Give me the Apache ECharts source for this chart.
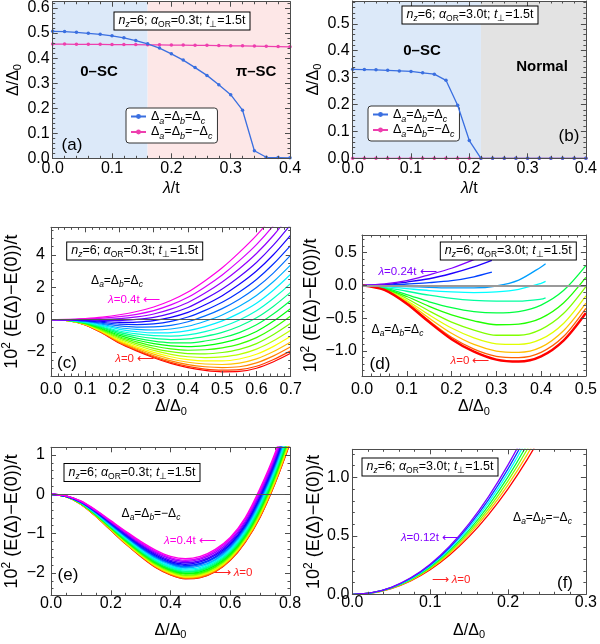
<!DOCTYPE html>
<html><head><meta charset="utf-8">
<script src="https://cdn.jsdelivr.net/npm/echarts@6/dist/echarts.min.js"></script>
<style>html,body{margin:0;padding:0;background:#fff}#c{width:600px;height:644px}</style>
</head><body><div id="c"></div><script>
const FONT = '"Liberation Sans", Arial, Helvetica, sans-serif';
const FRAME = '#4d4d4d';

// ---------- panels (a),(b) ----------
const lam = [0,0.02,0.04,0.06,0.08,0.10,0.12,0.14,0.16,0.18,0.20,0.22,0.24,0.26,0.28,0.30,0.32,0.34,0.36,0.38,0.40];
const aSame = [0.507,0.506,0.503,0.499,0.495,0.489,0.481,0.470,0.457,0.440,0.417,0.392,0.362,0.331,0.294,0.254,0.192,0.030,0.004,0.003,0.002];
const aOpp  = [0.456,0.456,0.455,0.455,0.455,0.454,0.454,0.454,0.453,0.453,0.452,0.452,0.451,0.451,0.450,0.449,0.449,0.448,0.447,0.446,0.445];
const bSame = [0.331,0.330,0.329,0.327,0.325,0.323,0.318,0.313,0.290,0.197,0.066,0.000,0,0,0,0,0,0,0,0,0];
const bOpp  = [0,0,0,0,0,0,0,0,0,0,0,0,0,0,0,0,0,0,0,0,0];
const phaseA = [0, 0.16, 0.40];
const phaseB = [0, 0.22, 0.40];
const ticksAx = [0,0.1,0.2,0.3,0.4];
const ticksAy = [0,0.1,0.2,0.3,0.4,0.5,0.6];
const ticksBy = [0,0.1,0.2,0.3,0.4,0.5];

// ---------- panel (c) ----------
const xC = [0,0.05,0.10,0.15,0.20,0.25,0.30,0.35,0.40,0.45,0.50,0.55,0.60,0.65,0.70];
const cCurves = [
 [0,-0.07,-0.33,-0.84,-1.46,-1.93,-2.35,-2.70,-2.96,-3.13,-3.22,-3.20,-3.00,-2.60,-2.08],
 [0,-0.07,-0.32,-0.83,-1.43,-1.89,-2.30,-2.64,-2.89,-3.05,-3.12,-3.09,-2.88,-2.46,-1.93],
 [0,-0.07,-0.31,-0.80,-1.39,-1.83,-2.23,-2.55,-2.78,-2.91,-2.96,-2.91,-2.67,-2.24,-1.68],
 [0,-0.06,-0.30,-0.77,-1.34,-1.76,-2.13,-2.43,-2.63,-2.74,-2.77,-2.68,-2.42,-1.97,-1.38],
 [0,-0.06,-0.29,-0.74,-1.28,-1.68,-2.02,-2.29,-2.47,-2.55,-2.55,-2.43,-2.14,-1.65,-1.03],
 [0,-0.06,-0.27,-0.70,-1.21,-1.58,-1.90,-2.14,-2.29,-2.34,-2.30,-2.15,-1.82,-1.30,-0.65],
 [0,-0.06,-0.26,-0.66,-1.13,-1.48,-1.77,-1.98,-2.10,-2.11,-2.03,-1.84,-1.48,-0.92,-0.23],
 [0,-0.05,-0.24,-0.61,-1.06,-1.37,-1.63,-1.81,-1.89,-1.86,-1.74,-1.51,-1.11,-0.52,0.22],
 [0,-0.05,-0.22,-0.56,-0.97,-1.26,-1.48,-1.62,-1.67,-1.60,-1.44,-1.16,-0.73,-0.09,0.69],
 [0,-0.04,-0.20,-0.51,-0.88,-1.14,-1.33,-1.43,-1.44,-1.32,-1.12,-0.80,-0.32,0.36,1.18],
 [0,-0.04,-0.18,-0.46,-0.79,-1.01,-1.16,-1.23,-1.19,-1.03,-0.79,-0.41,0.11,0.83,1.70],
 [0,-0.04,-0.16,-0.41,-0.70,-0.88,-0.99,-1.02,-0.94,-0.74,-0.44,-0.02,0.55,1.32,2.24],
 [0,-0.03,-0.13,-0.35,-0.60,-0.74,-0.82,-0.80,-0.68,-0.43,-0.08,0.40,1.01,1.83,2.80],
 [0,-0.03,-0.11,-0.29,-0.50,-0.60,-0.64,-0.58,-0.41,-0.10,0.29,0.82,1.49,2.35,3.38],
 [0,-0.02,-0.09,-0.23,-0.39,-0.46,-0.45,-0.35,-0.13,0.23,0.68,1.26,1.98,2.89,3.98],
 [0,-0.02,-0.06,-0.17,-0.28,-0.31,-0.26,-0.11,0.16,0.57,1.07,1.71,2.48,3.45,4.59],
 [0,-0.01,-0.04,-0.11,-0.17,-0.15,-0.06,0.14,0.45,0.92,1.48,2.18,3.00,4.02,5.22],
 [0,-0.01,-0.01,-0.04,-0.06,0.01,0.14,0.39,0.75,1.28,1.89,2.65,3.53,4.61,5.87],
 [0,0.00,0.02,0.02,0.06,0.17,0.35,0.65,1.06,1.64,2.32,3.14,4.08,5.21,6.53],
 [0,0.00,0.04,0.09,0.18,0.33,0.56,0.91,1.38,2.02,2.76,3.64,4.63,5.82,7.21],
 [0,0.01,0.07,0.16,0.30,0.50,0.78,1.18,1.70,2.40,3.20,4.15,5.20,6.45,7.90]
];
const ticksCx = [0,0.1,0.2,0.3,0.4,0.5,0.6,0.7];
const ticksCy = [-2,0,2,4];

// ---------- panel (d) ----------
const xD = [0,0.05,0.10,0.15,0.20,0.25,0.30,0.35,0.40,0.45,0.50];
const dCurves = [
 [0,-0.07,-0.28,-0.56,-0.82,-1.01,-1.13,-1.16,-1.08,-0.84,-0.42],
 [0,-0.07,-0.27,-0.54,-0.79,-0.97,-1.08,-1.10,-1.02,-0.78,-0.35],
 [0,-0.06,-0.25,-0.50,-0.73,-0.90,-1.00,-1.02,-0.94,-0.69,-0.27],
 [0,-0.06,-0.23,-0.45,-0.65,-0.80,-0.89,-0.90,-0.82,-0.58,-0.16],
 [0,-0.05,-0.20,-0.39,-0.56,-0.68,-0.76,-0.76,-0.67,-0.43,-0.02],
 [0,-0.05,-0.17,-0.32,-0.45,-0.54,-0.60,-0.59,-0.50,-0.27,0.12],
 [0,-0.04,-0.14,-0.25,-0.34,-0.40,-0.42,-0.40,-0.30,-0.08,0.30],
 [0,-0.03,-0.09,-0.15,-0.20,-0.23,-0.24,-0.24,-0.21],
 [0,-0.02,-0.05,-0.08,-0.10,-0.11,-0.10,-0.06,0.03],
 [0,-0.01,-0.02,-0.03,-0.04,-0.04,-0.01,0.08,0.28],
 [0,0.00,0.02,0.04,0.07,0.13],
 [0,0.01,0.05,0.10,0.18,0.28],
 [0,0.02,0.07,0.16,0.26,0.39]
];
const dTails = [null,null,null,null,null,null,null,[0.41,-0.19],[0.41,0.06],[0.41,0.33],[0.29,0.20],[0.29,0.38],[0.254,0.41]];
const ticksDx = [0,0.1,0.2,0.3,0.4,0.5];
const ticksDy = [-1,-0.5,0,0.5];

// ---------- panel (e) ----------
const xE = [0,0.05,0.10,0.15,0.20,0.25,0.30,0.35,0.40,0.45,0.50,0.55,0.60,0.65,0.70,0.75,0.80];
const eCurves = [
 [0,-0.06,-0.25,-0.56,-0.91,-1.26,-1.58,-1.86,-2.05,-2.15,-2.12,-1.97,-1.68,-1.22,-0.58,0.28,1.30],
 [0,-0.06,-0.25,-0.56,-0.91,-1.26,-1.57,-1.85,-2.04,-2.14,-2.11,-1.96,-1.67,-1.21,-0.57,0.29,1.31],
 [0,-0.06,-0.25,-0.55,-0.90,-1.25,-1.56,-1.84,-2.03,-2.13,-2.10,-1.95,-1.66,-1.20,-0.55,0.31,1.34],
 [0,-0.06,-0.24,-0.55,-0.89,-1.24,-1.55,-1.83,-2.02,-2.11,-2.08,-1.93,-1.64,-1.18,-0.53,0.33,1.36],
 [0,-0.06,-0.24,-0.54,-0.88,-1.23,-1.54,-1.81,-2.00,-2.10,-2.06,-1.91,-1.62,-1.15,-0.50,0.36,1.39],
 [0,-0.06,-0.24,-0.54,-0.88,-1.21,-1.53,-1.80,-1.98,-2.08,-2.04,-1.89,-1.60,-1.13,-0.48,0.39,1.43],
 [0,-0.06,-0.24,-0.53,-0.87,-1.20,-1.51,-1.78,-1.96,-2.06,-2.02,-1.86,-1.57,-1.11,-0.44,0.42,1.47],
 [0,-0.06,-0.23,-0.52,-0.85,-1.19,-1.49,-1.76,-1.94,-2.03,-2.00,-1.84,-1.55,-1.08,-0.41,0.46,1.51],
 [0,-0.05,-0.23,-0.52,-0.84,-1.17,-1.47,-1.74,-1.92,-2.01,-1.97,-1.81,-1.52,-1.05,-0.38,0.49,1.55],
 [0,-0.05,-0.22,-0.51,-0.83,-1.16,-1.46,-1.72,-1.90,-1.98,-1.94,-1.78,-1.49,-1.02,-0.34,0.53,1.59],
 [0,-0.05,-0.22,-0.50,-0.82,-1.14,-1.44,-1.69,-1.87,-1.96,-1.92,-1.75,-1.46,-0.99,-0.30,0.57,1.64],
 [0,-0.05,-0.22,-0.49,-0.81,-1.12,-1.42,-1.67,-1.85,-1.93,-1.89,-1.72,-1.43,-0.95,-0.26,0.61,1.69],
 [0,-0.05,-0.21,-0.48,-0.79,-1.10,-1.39,-1.64,-1.82,-1.90,-1.86,-1.69,-1.40,-0.92,-0.22,0.66,1.74],
 [0,-0.05,-0.21,-0.47,-0.78,-1.08,-1.37,-1.62,-1.79,-1.87,-1.82,-1.66,-1.36,-0.88,-0.18,0.70,1.79],
 [0,-0.05,-0.20,-0.46,-0.76,-1.07,-1.35,-1.59,-1.76,-1.84,-1.79,-1.62,-1.33,-0.84,-0.14,0.75,1.85],
 [0,-0.05,-0.20,-0.45,-0.75,-1.05,-1.33,-1.57,-1.74,-1.81,-1.76,-1.59,-1.29,-0.81,-0.09,0.79,1.90],
 [0,-0.05,-0.19,-0.44,-0.73,-1.03,-1.30,-1.54,-1.71,-1.78,-1.72,-1.55,-1.26,-0.77,-0.05,0.84,1.96],
 [0,-0.04,-0.19,-0.43,-0.72,-1.01,-1.28,-1.51,-1.68,-1.74,-1.69,-1.52,-1.22,-0.73,0.00,0.89,2.02],
 [0,-0.04,-0.18,-0.42,-0.70,-0.98,-1.25,-1.48,-1.64,-1.71,-1.65,-1.48,-1.18,-0.69,0.05,0.94,2.08],
 [0,-0.04,-0.18,-0.41,-0.69,-0.96,-1.23,-1.45,-1.61,-1.68,-1.62,-1.44,-1.14,-0.64,0.10,1.00,2.14],
 [0,-0.04,-0.17,-0.40,-0.67,-0.94,-1.20,-1.42,-1.58,-1.64,-1.58,-1.40,-1.10,-0.60,0.15,1.05,2.20]
];
const ticksEx = [0,0.2,0.4,0.6,0.8];
const ticksEy = [-2,-1,0,1];

// ---------- panel (f) ----------
const xF = [0,0.025,0.05,0.075,0.10,0.125,0.15,0.175,0.20,0.225,0.25];
const fCurves = [
 [0,0.011,0.049,0.115,0.210,0.336,0.493,0.682,0.902,1.156,1.442],
 [0,0.012,0.051,0.119,0.218,0.349,0.512,0.708,0.936,1.199,1.496],
 [0,0.012,0.053,0.124,0.226,0.362,0.531,0.733,0.970,1.243,1.551],
 [0,0.013,0.055,0.128,0.234,0.374,0.549,0.759,1.004,1.286,1.605],
 [0,0.013,0.057,0.132,0.242,0.387,0.568,0.785,1.039,1.330,1.660],
 [0,0.014,0.058,0.137,0.250,0.400,0.587,0.810,1.073,1.374,1.714],
 [0,0.014,0.060,0.141,0.258,0.412,0.605,0.836,1.107,1.417,1.768]
];
const ticksFx = [0,0.1,0.2,0.3];
const ticksFy = [0,0.5,1.0];

// ---------- helpers ----------
function hue(h){
  const i=Math.floor(h*6), f=h*6-i, q=1-f;
  const a=[[1,f,0],[q,1,0],[0,1,f],[0,q,1],[f,0,1],[1,0,q]][((i%6)+6)%6];
  return 'rgb('+a.map(v=>Math.round(v*255)).join(',')+')';
}
function range(lo,hi,step){const o=[];const s=Math.ceil(lo/step-1e-9),e=Math.floor(hi/step+1e-9);for(let k=s;k<=e;k++)o.push(+(k*step).toFixed(6));return o;}
const minus = v => (v<0?'\u2212':'')+Math.abs(v);
const f1 = v => (v<0?'\u2212':'')+Math.abs(v).toFixed(1);

const RICH16 = {
  n:{fontSize:16,lineHeight:20,fontFamily:FONT,color:'#000'},
  ni:{fontSize:16,lineHeight:20,fontFamily:FONT,color:'#000',fontStyle:'italic'},
  s:{fontSize:11,lineHeight:12,fontFamily:FONT,color:'#000',verticalAlign:'bottom'},
  p:{fontSize:11,lineHeight:11,fontFamily:FONT,color:'#000',verticalAlign:'top'}
};
const RICHY = {
  n:{fontSize:18,lineHeight:22,fontFamily:FONT,color:'#000'},
  p:{fontSize:12,lineHeight:12,fontFamily:FONT,color:'#000',verticalAlign:'top'}
};
const option = {animation:false, textStyle:{fontFamily:FONT}, grid:[], xAxis:[], yAxis:[], series:[], legend:[], graphic:{elements:[]}};

function addPanel(p){
  const gi=option.grid.length;
  option.grid.push({left:p.l,top:p.t,width:p.w,height:p.h,containLabel:false});
  const xi=option.xAxis.length, yi=option.yAxis.length;
  const xMinor=range(p.xmin,p.xmax,p.xm), yMinor=range(p.ymin,p.ymax,p.ym);
  const base=(min,max,pos,ticks,len,line)=>({type:'value',gridIndex:gi,position:pos,min:min,max:max,
    splitLine:{show:false},
    axisLine:{show:line,onZero:false,lineStyle:{color:FRAME,width:1}},
    axisTick:{show:true,inside:true,length:len,customValues:ticks,lineStyle:{color:FRAME,width:1}},
    axisLabel:{show:false}, z:20});
  const bx=base(p.xmin,p.xmax,'bottom',p.xt,5,true);
  bx.axisLabel={show:true,customValues:p.xt,formatter:p.xf,margin:p.xlm,fontSize:16,color:'#000',fontFamily:FONT};
  bx.name=p.xn; bx.nameLocation='middle'; bx.nameGap=p.xng;
  bx.nameTextStyle={fontSize:16,color:'#000',fontFamily:FONT,rich:RICH16};
  option.xAxis.push(bx, base(p.xmin,p.xmax,'bottom',xMinor,2.5,false),
                    base(p.xmin,p.xmax,'top',p.xt,5,true), base(p.xmin,p.xmax,'top',xMinor,2.5,false));
  const ly=base(p.ymin,p.ymax,'left',p.yt,5,true);
  ly.axisLabel={show:true,customValues:p.yt,formatter:p.yf,margin:p.ylm,fontSize:16,color:'#000',fontFamily:FONT};
  ly.name=p.yn; ly.nameLocation='middle'; ly.nameGap=p.yng; ly.nameRotate=90;
  ly.nameTextStyle={fontSize:16,color:'#000',fontFamily:FONT,rich:p.yrich};
  option.yAxis.push(ly, base(p.ymin,p.ymax,'left',yMinor,2.5,false),
                    base(p.ymin,p.ymax,'right',p.yt,5,true), base(p.ymin,p.ymax,'right',yMinor,2.5,false));
  return {gi:gi,xi:xi,yi:yi};
}
function curve(P,data,color,width,z){
  return {type:'line',xAxisIndex:P.xi,yAxisIndex:P.yi,data:data,symbol:'none',showSymbol:false,
    smooth:0.3,lineStyle:{color:color,width:width},itemStyle:{color:color},silent:true,z:z||3};
}
function zeroLine(P,color,width){
  return {type:'line',xAxisIndex:P.xi,yAxisIndex:P.yi,data:[],symbol:'none',silent:true,z:8,
    markLine:{silent:true,symbol:'none',label:{show:false},animation:false,
      lineStyle:{color:color,width:width,type:'solid'},data:[{yAxis:0}]}};
}
const TXT = (x,y,text,rich,extra)=>Object.assign({type:'text',x:x,y:y,z:100,
   style:Object.assign({text:text,rich:rich,fill:'#000',fontFamily:FONT,fontSize:12,
     align:'center',verticalAlign:'middle',textAlign:'center',textVerticalAlign:'middle'},extra||{})});
const RB = {
  r:{fontSize:12.5,lineHeight:17,fontFamily:FONT,fill:'#000'},
  i:{fontSize:12.5,lineHeight:17,fontFamily:FONT,fill:'#000',fontStyle:'italic'},
  s:{fontSize:8.5,lineHeight:9,fontFamily:FONT,fill:'#000',verticalAlign:'bottom'},
  si:{fontSize:8.5,lineHeight:9,fontFamily:FONT,fill:'#000',verticalAlign:'bottom',fontStyle:'italic'}
};
const boxText = a => '{i|n}{si|z}{r|=6; }{i|α}{s|OR}{r|='+a+'t; }{i|t}{s|⊥}{r|=1.5t}';
const BOXSTYLE = {backgroundColor:'#fff',borderColor:'#000',borderWidth:1,padding:[0,4,0,4]};
const RD = {
  D:{fontSize:12,lineHeight:17,fontFamily:FONT,fill:'#000'},
  s:{fontSize:8.5,lineHeight:9,fontFamily:FONT,fill:'#000',verticalAlign:'bottom',fontStyle:'italic'}
};
const deltaSame = '{D|Δ}{s|a}{D|=Δ}{s|b}{D|=Δ}{s|c}';
const deltaOpp  = '{D|Δ}{s|a}{D|=Δ}{s|b}{D|=\u2212Δ}{s|c}';
function lamRich(color){
  return {li:{fontSize:11.5,lineHeight:15,fontFamily:FONT,fill:color,fontStyle:'italic'},
          lr:{fontSize:11.5,lineHeight:15,fontFamily:FONT,fill:color}};
}
const G = option.graphic.elements;
const RL = {D:{fontSize:12.5,lineHeight:18,fontFamily:FONT,color:'#000'},
            s:{fontSize:9,lineHeight:10,fontFamily:FONT,color:'#000',verticalAlign:'bottom',fontStyle:'italic'}};
const BLUE='#3a6fe0', PINK='#ee3fae';
const MAG = hue(0.85), VIO = hue(0.75), RED = '#ff2020';

// ---------- (a) ----------
const yNameA = '{n|Δ/Δ}{s|0}';
const xNameL = '{ni|λ}{n|/t}';
const xNameD = '{n|Δ/Δ}{s|0}';
const yNameE = '{n|10}{p|2}{n| (E(Δ)\u2212E(0))/t}';
const PA = addPanel({l:52.7,t:1,w:237.3,h:157.3,xmin:0,xmax:0.4,ymin:0,ymax:0.625,xt:ticksAx,yt:ticksAy,xm:0.02,ym:0.02,
  xf:v=>v.toFixed(1),yf:v=>v.toFixed(1),xlm:2,ylm:3,xn:xNameL,xng:20,yn:yNameA,yng:28,yrich:RICH16});
option.series.push({type:'line',xAxisIndex:PA.xi,yAxisIndex:PA.yi,data:[[0,0]],symbol:'none',silent:true,z:1,
  markArea:{silent:true,data:[[{xAxis:phaseA[0],itemStyle:{color:'#dce9f9'}},{xAxis:phaseA[1]}],
                              [{xAxis:phaseA[1],itemStyle:{color:'#fde7e7'}},{xAxis:phaseA[2]}]]}});
option.series.push({type:'line',name:'opp',xAxisIndex:PA.xi,yAxisIndex:PA.yi,data:lam.map((x,i)=>[x,aOpp[i]]),
  symbol:'circle',symbolSize:3.5,lineStyle:{color:PINK,width:1.3},itemStyle:{color:PINK},z:4});
option.series.push({type:'line',name:'same',xAxisIndex:PA.xi,yAxisIndex:PA.yi,data:lam.map((x,i)=>[x,aSame[i]]),
  symbol:'circle',symbolSize:3.5,lineStyle:{color:BLUE,width:1.3},itemStyle:{color:BLUE},z:5});
option.legend.push({left:126,top:108,orient:'vertical',data:['same','opp'],itemWidth:15,itemHeight:6,itemGap:0,
  padding:[2,5,2,4],borderColor:'#333',borderWidth:1,borderRadius:3,backgroundColor:'#fff',selectedMode:false,
  formatter:n=>n==='same'?deltaSame:deltaOpp, textStyle:{fontSize:12.5,fontFamily:FONT,color:'#000',rich:RL}});
G.push(TXT(182,21,boxText('0.3'),RB,BOXSTYLE));
G.push(TXT(99,72,'0–SC',null,{fontSize:15,fontWeight:'bold'}));
G.push(TXT(256,72,'π–SC',null,{fontSize:15,fontWeight:'bold'}));
G.push(TXT(72,145,'(a)',null,{fontSize:17}));

// ---------- (b) ----------
const PB = addPanel({l:352.7,t:1,w:237.3,h:157.3,xmin:0,xmax:0.4,ymin:0,ymax:0.585,xt:ticksAx,yt:ticksBy,xm:0.02,ym:0.02,
  xf:v=>v.toFixed(1),yf:v=>v.toFixed(1),xlm:2,ylm:3,xn:xNameL,xng:20,yn:yNameA,yng:28,yrich:RICH16});
option.series.push({type:'line',xAxisIndex:PB.xi,yAxisIndex:PB.yi,data:[[0,0]],symbol:'none',silent:true,z:1,
  markArea:{silent:true,data:[[{xAxis:phaseB[0],itemStyle:{color:'#dce9f9'}},{xAxis:phaseB[1]}],
                              [{xAxis:phaseB[1],itemStyle:{color:'#e3e3e3'}},{xAxis:phaseB[2]}]]}});
option.series.push({type:'line',name:'opp',xAxisIndex:PB.xi,yAxisIndex:PB.yi,data:lam.map((x,i)=>[x,bOpp[i]]),
  symbol:'circle',symbolSize:3.5,lineStyle:{color:PINK,width:1.3},itemStyle:{color:PINK},z:4});
option.series.push({type:'line',name:'same',xAxisIndex:PB.xi,yAxisIndex:PB.yi,data:lam.map((x,i)=>[x,bSame[i]]),
  symbol:'circle',symbolSize:3.5,lineStyle:{color:BLUE,width:1.3},itemStyle:{color:BLUE},z:5});
option.legend.push({left:368,top:106,orient:'vertical',data:['same','opp'],itemWidth:15,itemHeight:6,itemGap:0,
  padding:[2,5,2,4],borderColor:'#333',borderWidth:1,borderRadius:3,backgroundColor:'#fff',selectedMode:false,
  formatter:n=>n==='same'?deltaSame:deltaOpp, textStyle:{fontSize:12.5,fontFamily:FONT,color:'#000',rich:RL}});
G.push(TXT(470,15,boxText('3.0'),RB,BOXSTYLE));
G.push(TXT(422,51,'0–SC',null,{fontSize:15,fontWeight:'bold'}));
G.push(TXT(542,67,'Normal',null,{fontSize:15,fontWeight:'bold'}));
G.push(TXT(569,136,'(b)',null,{fontSize:17}));

// ---------- (c) ----------
const PC = addPanel({l:50,t:227.3,w:240.7,h:148.7,xmin:0,xmax:0.7,ymin:-3.48,ymax:5.7,xt:ticksCx,yt:ticksCy,xm:0.02,ym:0.5,
  xf:v=>v.toFixed(1),yf:minus,xlm:6,ylm:6,xn:xNameD,xng:21,yn:yNameE,yng:28,yrich:RICHY});
cCurves.forEach((c,k)=>option.series.push(curve(PC,xC.map((x,i)=>[x,c[i]]),hue(0.85*k/20),1.2,3)));
option.series.push(zeroLine(PC,'#555',1.2));
G.push(TXT(134.7,251,boxText('0.3'),RB,BOXSTYLE));
G.push(TXT(117,281,deltaSame,RD));
G.push(TXT(134,299.5,'{li|λ}{lr|=0.4t ⟵}',lamRich(MAG)));
G.push(TXT(134.7,359,'{li|λ}{lr|=0 ⟵}',lamRich(RED)));
G.push(TXT(67,363,'(c)',null,{fontSize:17}));

// ---------- (d) ----------
const PD = addPanel({l:362,t:235,w:227.3,h:141,xmin:0,xmax:0.5,ymin:-1.38,ymax:0.766,xt:ticksDx,yt:ticksDy,xm:0.02,ym:0.1,
  xf:v=>v.toFixed(1),yf:f1,xlm:6,ylm:5,xn:xNameD,xng:21,yn:yNameE,yng:40,yrich:RICHY});
dCurves.forEach((c,k)=>{
  const pts=c.map((y,i)=>[xD[i],y]); if(dTails[k]) pts.push(dTails[k]);
  option.series.push(curve(PD,pts,hue(0.75*k/12),k===0?2.4:1.3,k===0?4:3));
});
option.series.push(zeroLine(PD,'#9a9a9a',1.8));
G.push(TXT(508.3,251,boxText('3.0'),RB,BOXSTYLE));
G.push(TXT(407.5,272,'{li|λ}{lr|=0.24t ⟵}',lamRich(VIO)));
G.push(TXT(397.5,330,deltaSame,RD));
G.push(TXT(470,361,'{li|λ}{lr|=0 ⟵}',lamRich(RED)));
G.push(TXT(380,364,'(d)',null,{fontSize:17}));

// ---------- (e) ----------
const PE = addPanel({l:50,t:447.3,w:240,h:148,xmin:0,xmax:0.8,ymin:-2.57,ymax:1.196,xt:ticksEx,yt:ticksEy,xm:0.05,ym:0.2,
  xf:v=>v.toFixed(1),yf:minus,xlm:0,ylm:6,xn:xNameD,xng:25,yn:yNameE,yng:28,yrich:RICHY});
eCurves.forEach((c,k)=>option.series.push(curve(PE,xE.map((x,i)=>[x,c[i]]),hue(0.85*k/20),1.4,3)));
option.series.push(zeroLine(PE,'#555',1.2));
G.push(TXT(132,472.5,boxText('0.3'),RB,BOXSTYLE));
G.push(TXT(151,514,deltaOpp,RD));
G.push(TXT(190,541,'{li|λ}{lr|=0.4t ⟵}',lamRich(MAG)));
G.push(TXT(233,573,'{lr|⟶ }{li|λ}{lr|=0}',lamRich(RED)));
G.push(TXT(68,575,'(e)',null,{fontSize:17}));

// ---------- (f) ----------
const PF = addPanel({l:352.3,t:449.3,w:237,h:145,xmin:0,xmax:0.3,ymin:0,ymax:1.24,xt:ticksFx,yt:ticksFy,xm:0.02,ym:0.1,
  xf:v=>v.toFixed(1),yf:v=>v.toFixed(1),xlm:0,ylm:3,xn:xNameD,xng:26,yn:yNameE,yng:27,yrich:RICHY});
fCurves.forEach((c,k)=>option.series.push(curve(PF,xF.map((x,i)=>[x,c[i]]),hue(0.75*k/6),1.3,3)));
G.push(TXT(430,467,boxText('3.0'),RB,BOXSTYLE));
G.push(TXT(542.5,518,deltaOpp,RD));
G.push(TXT(430,537.5,'{li|λ}{lr|=0.12t ⟵}',lamRich(VIO)));
G.push(TXT(451,579.5,'{lr|⟶ }{li|λ}{lr|=0}',lamRich(RED)));
G.push(TXT(565,583,'(f)',null,{fontSize:17}));

const chart = echarts.init(document.getElementById('c'),null,{renderer:'canvas'});
chart.setOption(option);
</script></body></html>
